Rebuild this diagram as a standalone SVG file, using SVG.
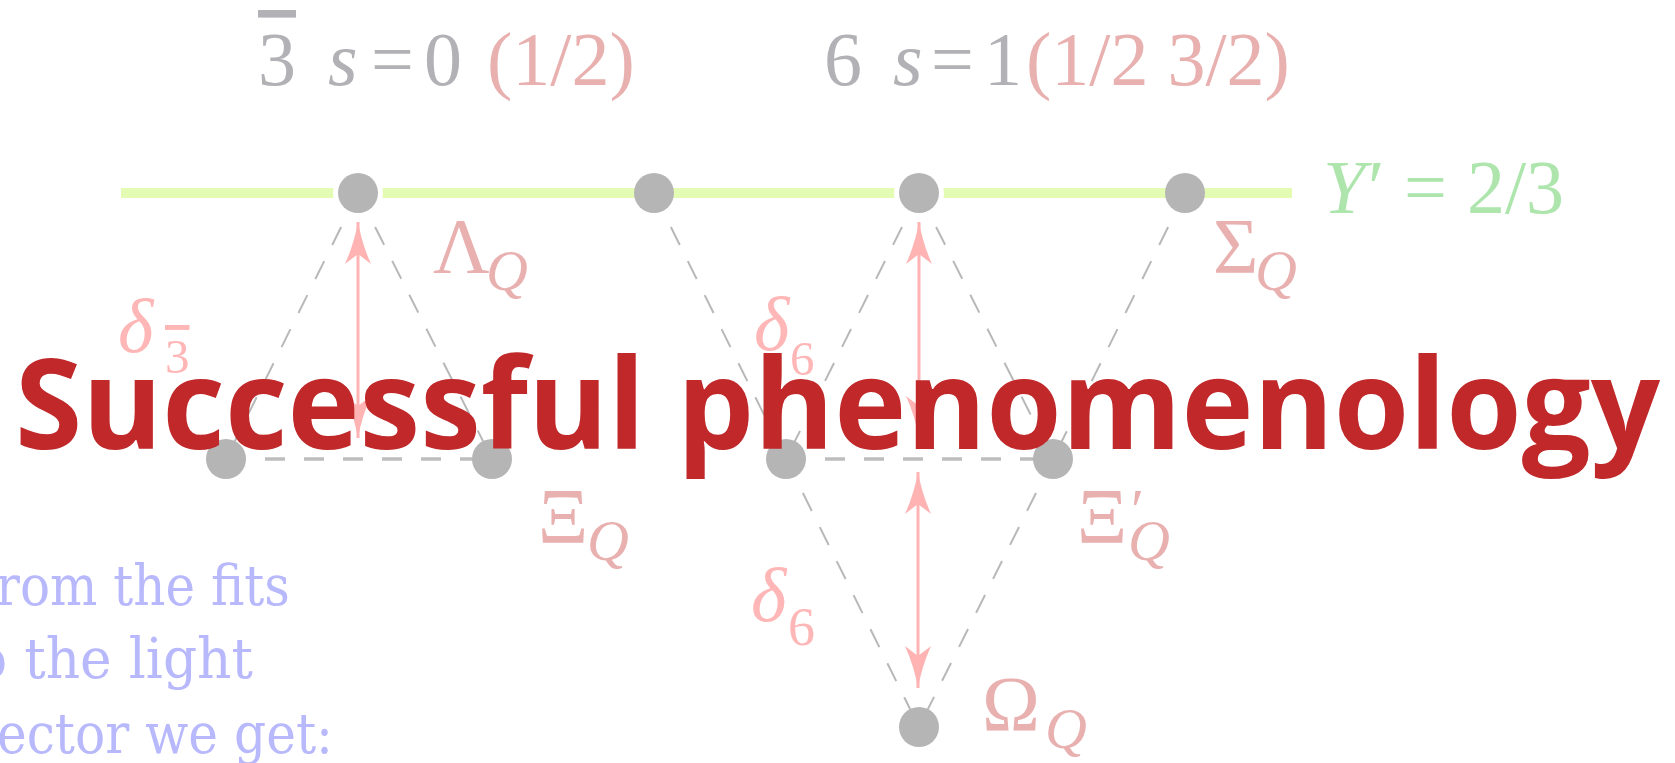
<svg xmlns="http://www.w3.org/2000/svg" width="1675" height="763" viewBox="0 0 1675 763">
<style>
.tm{font-family:"Liberation Serif","Times New Roman",serif}
.it{font-style:italic}
.gray{fill:#b2b2b6}
.pink{fill:#e9b0b0}
.dl{fill:#ffb6b6}
.grn{fill:#ade5ad}
.node{fill:#b5b5b5}
.halo{fill:#ffffff}
.ov{text-decoration:overline}
.dash{stroke:#b8b8b8;stroke-width:2;stroke-dasharray:20 18;fill:none}
.hdash{stroke:#bdbdbd;stroke-width:3.5;stroke-dasharray:20 19;fill:none}
.arr{stroke:#ffb3b3;stroke-width:3;fill:none;marker-start:url(#ah);marker-end:url(#ah)}
.blue{font-family:"DejaVu Serif","Liberation Serif",serif;fill:#b8b8fc;font-size:56px}
.title{font-family:"Open Sans","Liberation Sans",sans-serif;font-weight:bold;fill:#c0282a;font-size:126px}
</style>
<defs>
<marker id="ah" viewBox="0 -15 44 30" refX="42" refY="0" markerWidth="44" markerHeight="30" markerUnits="userSpaceOnUse" orient="auto-start-reverse">
<path d="M0,-13 Q20,-4 42,0 Q20,4 0,13 L10,0 Z" fill="#ffb3b3"/>
</marker>
</defs>
<rect width="1675" height="763" fill="#ffffff"/>

<!-- Y'=2/3 line -->
<line id="yline" x1="121" y1="193" x2="1292" y2="193" stroke="#e4fbb4" stroke-width="10"/>

<!-- connectors -->
<g id="connectors">
<line class="dash" x1="358" y1="193" x2="226" y2="459"/>
<line class="dash" x1="358" y1="193" x2="492" y2="459"/>
<line class="dash" x1="654" y1="193" x2="786" y2="459"/>
<line class="dash" x1="919" y1="193" x2="786" y2="459"/>
<line class="dash" x1="919" y1="193" x2="1053" y2="459"/>
<line class="dash" x1="1185" y1="193" x2="1053" y2="459"/>
<line class="dash" x1="786" y1="459" x2="919" y2="727"/>
<line class="dash" x1="1053" y1="459" x2="919" y2="727"/>
<line class="hdash" x1="226" y1="459" x2="492" y2="459"/>
<line class="hdash" x1="786" y1="459" x2="1053" y2="459"/>
<line class="arr" x1="358" y1="438" x2="358" y2="222"/>
<line class="arr" x1="919" y1="438" x2="919" y2="222"/>
<line class="arr" x1="918" y1="472" x2="918" y2="688"/>
</g>

<!-- nodes -->
<g id="n-top1"><circle class="halo" cx="358" cy="193" r="25"/><circle class="node" cx="358" cy="193" r="20"/></g>
<g id="n-top2"><circle class="node" cx="654" cy="193" r="20"/></g>
<g id="n-top3"><circle class="halo" cx="919" cy="193" r="25"/><circle class="node" cx="919" cy="193" r="20"/></g>
<g id="n-top4"><circle class="node" cx="1185" cy="193" r="20"/></g>
<g id="n-mid1"><circle class="node" cx="226" cy="459" r="20"/></g>
<g id="n-mid2"><circle class="node" cx="492" cy="459" r="20"/></g>
<g id="n-mid3"><circle class="node" cx="786" cy="459" r="20"/></g>
<g id="n-mid4"><circle class="node" cx="1053" cy="459" r="20"/></g>
<g id="n-bot"><circle class="node" cx="919" cy="727" r="20"/></g>

<!-- header labels -->
<g id="hdr-3bar" class="tm" font-size="76">
<text y="85"><tspan class="gray ov" x="258">3</tspan><tspan class="gray it" x="328">s</tspan><tspan class="gray" x="371">=</tspan><tspan class="gray" x="424">0</tspan><tspan class="pink" x="487">(1/2)</tspan></text>
</g>
<g id="hdr-6" class="tm" font-size="76">
<text y="85"><tspan class="gray" x="824">6</tspan><tspan class="gray it" x="893">s</tspan><tspan class="gray" x="931">=</tspan><tspan class="gray" x="984">1</tspan><tspan class="pink" x="1026">(1/2 3/2)</tspan></text>
</g>
<g id="lbl-y" class="tm grn" font-size="76">
<text y="213"><tspan class="it" x="1323">Y</tspan><tspan x="1368">′</tspan><tspan x="1404">=</tspan><tspan x="1467">2/3</tspan></text>
</g>

<!-- particle labels -->
<g id="lbl-lambda" class="tm pink"><text x="433" y="272" font-size="78">Λ</text><text class="it" x="486" y="290" font-size="58">Q</text></g>
<g id="lbl-sigma" class="tm pink"><text x="1213" y="272" font-size="78">Σ</text><text class="it" x="1255" y="290" font-size="58">Q</text></g>
<g id="lbl-xi" class="tm pink"><text x="538" y="542" font-size="78">Ξ</text><text class="it" x="587" y="560" font-size="58">Q</text></g>
<g id="lbl-xip" class="tm pink"><text x="1077" y="542" font-size="78">Ξ</text><text x="1131" y="530" font-size="60">′</text><text class="it" x="1128" y="560" font-size="58">Q</text></g>
<g id="lbl-omega" class="tm pink"><text x="982" y="730" font-size="78">Ω</text><text class="it" x="1045" y="748" font-size="58">Q</text></g>

<!-- delta labels -->
<g id="lbl-d3" class="tm dl"><text class="it" x="118" y="352" font-size="76">δ</text><text class="ov" x="165" y="373" font-size="49">3</text></g>
<g id="lbl-d6a" class="tm dl"><text class="it" x="754" y="350" font-size="76">δ</text><text x="790" y="375" font-size="49">6</text></g>
<g id="lbl-d6b" class="tm dl"><text class="it" x="751" y="621" font-size="76">δ</text><text x="788" y="645" font-size="54">6</text></g>

<!-- left text -->
<g id="bluetext" class="blue">
<text x="-4" y="605" textLength="294" lengthAdjust="spacingAndGlyphs">rom the fits</text>
<text x="-25" y="678" textLength="278" lengthAdjust="spacingAndGlyphs">o the light</text>
<text x="-3" y="753" textLength="336" lengthAdjust="spacingAndGlyphs">ector we get:</text>
</g>

<!-- title -->
<g id="title"><text class="title" x="15" y="449" textLength="1645" lengthAdjust="spacingAndGlyphs">Successful phenomenology</text></g>
</svg>
